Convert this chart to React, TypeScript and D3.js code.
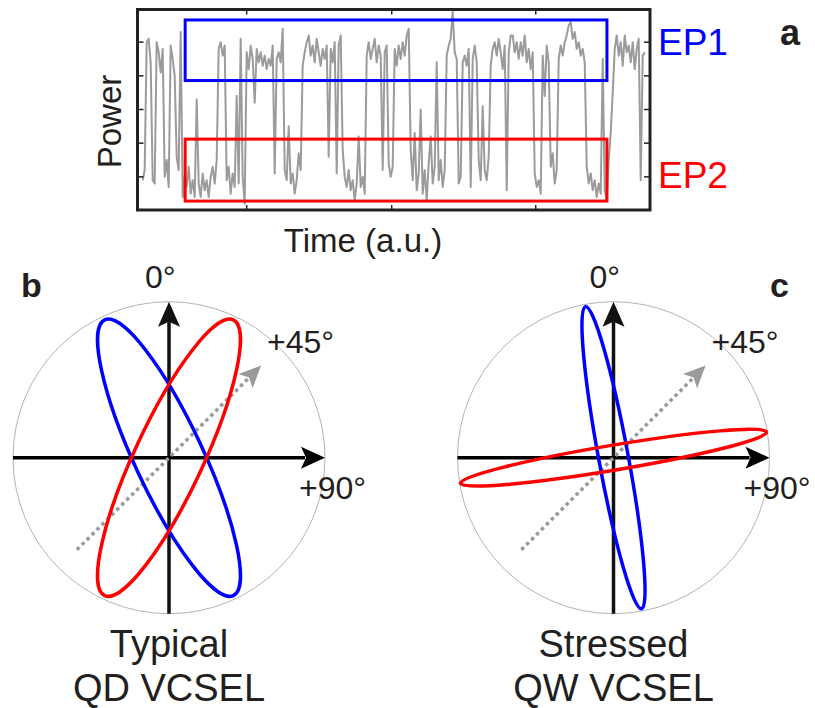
import React from "react";
import * as d3 from "d3";

// power trace (a.u.), sampled evenly in time
const trace = [
  0.9, 1.2, 5.0, 5.1, 4.4, 0.9, 0.8, 5.0, 4.7, 4.1, 4.8, 1.0, 1.5, 0.7, 4.9, 4.5, 4.0, 1.6, 1.2, 5.3, 0.4,
  1.0, 0.7, 1.3, 0.5, 0.9, 0.4, 3.3, 0.8, 0.4, 1.1, 0.6, 0.9, 0.4, 1.0, 1.3, 0.8, 1.5,
  4.8, 5.0, 4.6, 4.9, 0.9, 1.3, 0.5, 1.1, 0.7, 3.4, 0.8, 5.1, 1.0, 0.2, 4.7, 4.2, 4.9, 4.5, 3.2, 4.8, 4.4, 4.7, 4.3, 4.6, 4.2, 4.5, 4.3, 4.9, 1.1, 4.5, 4.7, 4.4, 5.4,
  1.2, 0.9, 2.5, 0.8, 1.1, 0.5, 0.9, 1.7, 1.2,
  4.3, 4.7, 5.0, 5.2, 4.6, 4.9, 4.4, 5.1, 4.7, 4.3, 4.8, 4.5, 4.9, 1.6, 4.8, 4.4, 5.0, 1.1, 4.9, 5.2, 1.8,
  1.0, 0.7, 1.2, 0.6, 0.9, 0.3, 0.8, 2.2, 0.7, 1.0, 0.5,
  4.6, 5.0, 4.5, 4.8, 5.1, 4.4, 4.9, 4.6, 1.2, 4.7, 4.9, 1.4, 1.0, 1.3,
  4.8, 4.3, 4.9, 4.5, 5.0, 4.6, 5.2, 5.4,
  1.8, 0.9, 2.3, 0.6, 1.1, 3.0, 0.5, 1.2, 0.3, 1.4, 2.2, 0.8, 1.3, 4.4, 0.9, 1.5, 0.7, 1.2,
  4.6, 4.9, 5.1, 5.9, 4.7, 4.5, 0.8, 1.0, 4.4, 4.6, 4.3, 4.8, 0.7, 4.5, 4.9, 4.4,
  1.5, 0.9, 3.1, 1.2, 0.9, 1.6,
  4.3, 4.8, 5.0, 4.6, 5.1, 4.7, 4.2, 4.9, 0.6, 4.7, 5.2, 5.2, 4.7, 5.0, 4.5, 5.0, 4.6, 5.2, 4.4, 4.8, 4.2, 4.7,
  1.1, 0.7, 0.9, 0.5, 4.6, 3.4, 4.9, 4.4, 1.3, 1.7, 0.8, 1.2,
  4.5, 4.9, 4.6, 5.0, 5.2, 5.5, 5.6, 5.1, 5.3, 4.8, 5.0, 4.6, 4.8, 4.4,
  1.3, 0.8, 1.1, 0.6, 0.9, 0.4, 0.8, 0.5, 4.5, 0.6, 0.3, 1.5, 2.3, 3.5,
  4.8, 5.2, 4.6, 5.0, 4.3, 5.2, 4.7, 4.9, 4.4, 5.0, 4.2, 4.8, 5.1, 0.9, 4.6, 4.7,
];
const traceSpan = [0.0101, 0.9897];
const xTicks = [0.213, 0.496, 0.777];
const yTicks = [1, 2, 3, 4, 5];

// emission-state windows
const epLabels = ["EP1", "EP2"];
const epTime = [0.093, 0.916];
const epPower = [
  [3.86, 5.66],
  [0.28, 2.12],
];

// polarization ellipses: tilt (deg from 0°), semi-major, semi-minor (fraction of circle)
const qdTilt = [-25, 25];
const qdMajor = [0.975, 0.975];
const qdMinor = [0.22, 0.22];
const qwTilt = [-10.5, 80.5];
const qwMajor = [0.985, 0.995];
const qwMinor = [0.095, 0.08];

const angleLabels = ["0°", "+45°", "+90°"];
const guideAngle = 45;
const guideExtent = [-0.835, 0.835];

const colors = ["#0000ff", "#ff0000"];
const ink = "#231f20";
const font = "'Liberation Sans', Arial, Helvetica, sans-serif";

function arrowHead(tx: number, ty: number, dx: number, dy: number, len: number, hw: number, notch: number) {
  const px = -dy, py = dx;
  const bx = tx - dx * len, by = ty - dy * len;
  const nx = tx - dx * (len - notch), ny = ty - dy * (len - notch);
  return `M${tx},${ty}L${bx + px * hw},${by + py * hw}L${nx},${ny}L${bx - px * hw},${by - py * hw}Z`;
}

function Polar({ cx, cy, tilt, major, minor, letter, letterX, title }: any) {
  const r = d3.scaleLinear().domain([0, 1]).range([0, 156]);
  const R = r(1);
  const a = (guideAngle * Math.PI) / 180;
  const ux = Math.sin(a), uy = -Math.cos(a);
  const g0 = r(guideExtent[0]), g1 = r(guideExtent[1]);
  const headLen = 22;
  return (
    <g>
      <circle cx={cx} cy={cy} r={R} fill="none" stroke="#b5b5b5" strokeWidth={1} />
      <line x1={cx} y1={cy + R} x2={cx} y2={cy - R + 20} stroke="#111" strokeWidth={3.5} />
      <path d={arrowHead(cx, cy - R, 0, -1, 25, 11, 5)} fill="#111" />
      <line x1={cx - R} y1={cy} x2={cx + R - 20} y2={cy} stroke="#000" strokeWidth={3.5} />
      <path d={arrowHead(cx + R, cy, 1, 0, 24, 11, 5)} fill="#000" />
      <line
        x1={cx + ux * g0}
        y1={cy + uy * g0}
        x2={cx + ux * (g1 - headLen + 3)}
        y2={cy + uy * (g1 - headLen + 3)}
        stroke="#9a9a9a"
        strokeWidth={3.5}
        strokeDasharray="3.5 3.5"
      />
      <path d={arrowHead(cx + ux * g1, cy + uy * g1, ux, uy, headLen, 10, 5)} fill="#9a9a9a" />
      {tilt.map((t: number, i: number) => (
        <ellipse
          key={i}
          cx={0}
          cy={0}
          rx={r(minor[i])}
          ry={r(major[i])}
          transform={`translate(${cx},${cy}) rotate(${t})`}
          fill="none"
          stroke={colors[i]}
          strokeWidth={3.5}
        />
      ))}
      <text x={cx - 24} y={288} fontSize={32} fill={ink}>{angleLabels[0]}</text>
      <text x={cx + 98} y={353} fontSize={32} fill={ink}>{angleLabels[1]}</text>
      <text x={cx + 130} y={499} fontSize={32} fill={ink}>{angleLabels[2]}</text>
      <text x={letterX} y={297} fontSize={34} fontWeight="bold" fill={ink}>{letter}</text>
      <text x={cx} y={657} fontSize={38} textAnchor="middle" fill={ink}>{title[0]}</text>
      <text x={cx} y={701} fontSize={38} textAnchor="middle" fill={ink}>{title[1]}</text>
    </g>
  );
}

export default function App() {
  const x = d3.scaleLinear().domain([0, 1]).range([137.5, 650]);
  const y = d3.scaleLinear().domain([0, 6]).range([210.5, 8.5]);
  const dt = (traceSpan[1] - traceSpan[0]) / (trace.length - 1);
  const line = d3
    .line<number>()
    .x((_, i) => x(traceSpan[0] + i * dt))
    .y((d) => y(d));

  const left = x(0), right = x(1), top = 9.5, bottom = 210;

  return (
    <svg
      width={815}
      height={708}
      style={{ position: "absolute", left: 0, top: 0, background: "#fff" }}
      fontFamily={font}
    >
      {/* panel a */}
      <path d={line(trace) || ""} fill="none" stroke="#9b9b9b" strokeWidth={2} strokeLinejoin="round" />
      {epLabels.map((lab, i) => (
        <rect
          key={lab}
          x={x(epTime[0])}
          y={y(epPower[i][1])}
          width={x(epTime[1]) - x(epTime[0])}
          height={y(epPower[i][0]) - y(epPower[i][1])}
          fill="none"
          stroke={colors[i]}
          strokeWidth={3}
        />
      ))}
      {yTicks.map((t) => (
        <g key={t} stroke="#222" strokeWidth={1.5}>
          <line x1={left} x2={left + 6} y1={y(t)} y2={y(t)} />
          <line x1={right} x2={right - 6} y1={y(t)} y2={y(t)} />
        </g>
      ))}
      {xTicks.map((t) => (
        <g key={t} stroke="#222" strokeWidth={1.5}>
          <line x1={x(t)} x2={x(t)} y1={top} y2={top + 5} />
          <line x1={x(t)} x2={x(t)} y1={bottom} y2={bottom - 5} />
        </g>
      ))}
      <rect x={left} y={top} width={right - left} height={bottom - top} fill="none" stroke="#222" strokeWidth={3} />
      <text transform="translate(121,121.5) rotate(-90)" fontSize={33} textAnchor="middle" fill={ink}>
        Power
      </text>
      <text x={363} y={252} fontSize={33} textAnchor="middle" fill={ink}>
        Time (a.u.)
      </text>
      <text x={658} y={55} fontSize={37} fill={colors[0]}>{epLabels[0]}</text>
      <text x={658} y={188} fontSize={37} fill={colors[1]}>{epLabels[1]}</text>
      <text x={780} y={45} fontSize={36} fontWeight="bold" fill={ink}>a</text>

      {/* panels b, c */}
      <Polar cx={169} cy={457.7} tilt={qdTilt} major={qdMajor} minor={qdMinor} letter="b" letterX={21} title={["Typical", "QD VCSEL"]} />
      <Polar cx={613.5} cy={457.7} tilt={qwTilt} major={qwMajor} minor={qwMinor} letter="c" letterX={770} title={["Stressed", "QW VCSEL"]} />
    </svg>
  );
}
